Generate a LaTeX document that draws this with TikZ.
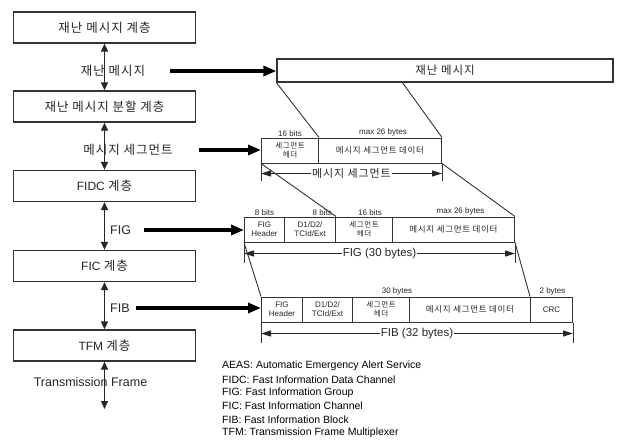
\documentclass[tikz,border=0pt]{standalone}
\usepackage{fontspec}
\setmainfont{Liberation Sans}
\newfontfamily\kr[LetterSpace=8]{Noto Sans CJK KR}
\usetikzlibrary{arrows.meta,calc}
\begin{document}
\begin{tikzpicture}[x=1pt,y=-1pt,
  layer/.style={draw=black!80,line width=1.3pt,minimum width=182pt,minimum height=31pt,inner sep=0pt,font=\fontsize{12}{14}\selectfont,text=black!85},
  lbl/.style={font=\fontsize{12}{14}\selectfont,text=black!85,inner sep=0pt},
  varrow/.style={draw=black!85,line width=1.3pt,{Triangle[length=8pt,width=7pt]}-{Triangle[length=8pt,width=7pt]}},
  harrow/.style={draw=black,line width=3.2pt,-{Triangle[length=13pt,width=10pt]}},
  cell/.style={draw=black!80,line width=1pt,minimum height=25pt,inner sep=0pt,anchor=west,align=center,font=\fontsize{8}{9}\selectfont,text=black!85},
  small/.style={font=\fontsize{8}{8}\selectfont,inner sep=0pt,text=black!85},
  thin/.style={draw=black!80,line width=0.9pt},
  dimarrow/.style={draw=black!85,line width=1pt,{Triangle[length=10pt,width=6pt]}-{Triangle[length=10pt,width=6pt]}},
  dimtxt/.style={fill=white,inner sep=1pt,font=\fontsize{11.5}{13}\selectfont,text=black!85},
  legend/.style={anchor=west,inner sep=0pt,font=\fontsize{10.5}{12}\selectfont,text=black}
]
\useasboundingbox[fill=white] (0,0) rectangle (621,440);

% left layer stack
\node[layer] (L1) at (104.5,27.5) {{\kr\fontsize{12.5}{14}\selectfont 재난 메시지 계층}};
\node[layer] (L2) at (104.5,106.5) {{\kr\fontsize{12.5}{14}\selectfont 재난 메시지 분할 계층}};
\node[layer] (L3) at (104.5,186) {FIDC {\kr\fontsize{12.5}{14}\selectfont 계층}};
\node[layer] (L4) at (104.5,266) {FIC {\kr\fontsize{12.5}{14}\selectfont 계층}};
\node[layer] (L5) at (104.5,345.5) {TFM {\kr\fontsize{12.5}{14}\selectfont 계층}};
\coordinate (Lend) at (104.5,409);

\node[lbl] (t1) at (113,71) {{\kr\fontsize{12.5}{14}\selectfont 재난 메시지}};
\node[lbl] (t2) at (128,150) {{\kr\fontsize{12.5}{14}\selectfont 메시지 세그먼트}};
\node[lbl,anchor=west,font=\fontsize{12.5}{14}\selectfont] (t3) at (110,230) {FIG};
\node[lbl,anchor=west,font=\fontsize{12.5}{14}\selectfont] (t4) at (110,308) {FIB};
\node[lbl,font=\fontsize{12.5}{14}\selectfont] (t5) at (90.5,382) {Transmission Frame};

\draw[varrow] (L1.south) -- (L2.north);
\draw[varrow] (L2.south) -- (L3.north);
\draw[varrow] (L3.south) -- (L4.north);
\draw[varrow] (L4.south) -- (L5.north);
\draw[varrow] (L5.south) -- (Lend);

% top message box
\node[draw=black!80,line width=1.2pt,minimum width=336pt,minimum height=23pt,inner sep=0pt,text=black!85] (msg) at (445,70.5) {{\kr\fontsize{11.5}{13}\selectfont 재난 메시지}};
\coordinate (msgcut) at (402,82);

% segment row
\node[cell,minimum width=57pt] (sh1) at (261,150.5) {{\kr\fontsize{7.5}{8.5}\selectfont 세그먼트}\\{\kr\fontsize{7.5}{8.5}\selectfont 헤더}};
\node[cell,minimum width=123pt] (sd1) at (318,150.5) {{\kr\fontsize{8.5}{9}\selectfont 메시지 세그먼트 데이터}};
\node[small,anchor=south] (s16) at ($(sh1.north)+(0,-1)$) {16 bits};
\node[small,anchor=south] (s26) at ($(sd1.north)+(3,-1)$) {max 26 bytes};

\draw[harrow] (t1.east) ++(25,0) coordinate (a1) -- (a1 -| msg.west);
\draw[harrow] (t2.east) ++(26,0) coordinate (a2) -- (a2 -| sh1.west);

\draw[thin] (msg.south west) -- (sh1.north east);
\draw[thin] (msgcut) -- (sd1.north east);

% segment dimension
\coordinate (sdl) at ($(sh1.south west)+(0,17)$);
\coordinate (sdr) at ($(sd1.south east)+(0,17)$);
\draw[thin] (sh1.south west) -- (sdl);
\draw[thin] (sd1.south east) -- (sdr);
\draw[dimarrow] ($(sh1.south west)+(0,10)$) coordinate (sdA) -- (sdA -| sd1.south east)
  node[dimtxt,pos=0.5] (sdt) {{\kr\fontsize{11}{12}\selectfont 메시지 세그먼트}};

% FIG row
\node[cell,minimum width=40pt] (fh) at (244,229.5) {FIG\\Header};
\node[cell,minimum width=51pt] (fd) at (284,229.5) {D1/D2/\\TCId/Ext};
\node[cell,minimum width=57pt] (fs) at (335,229.5) {{\kr\fontsize{7.5}{8.5}\selectfont 세그먼트}\\{\kr\fontsize{7.5}{8.5}\selectfont 헤더}};
\node[cell,minimum width=122pt] (fdat) at (392,229.5) {{\kr\fontsize{8.5}{9}\selectfont 메시지 세그먼트 데이터}};
\node[small,anchor=south] (f8a) at ($(fh.north)+(0,-1)$) {8 bits};
\node[small,anchor=south east] (f8b) at ($(fd.north east)+(-4,-1)$) {8 bits};
\node[small,anchor=south] (f16) at ($(fs.north)+(6,-1)$) {16 bits};
\node[small,anchor=south] (f26) at ($(fdat.north)+(7,-1)$) {max 26 bytes};

\draw[harrow] (t3.east) ++(13,0) coordinate (a3) -- (a3 -| fh.west);

\draw[thin] (sh1.south west) -- (fd.north east);
\draw[thin] (sd1.south east) -- (fdat.north east);

% FIG dimension
\draw[thin] (fh.north west) -- ($(fh.south west)+(0,20)$);
\draw[thin] (fdat.south east) -- ($(fdat.south east)+(0,20)$);
\draw[dimarrow] ($(fh.south west)+(0,11)$) coordinate (fdA) -- (fdA -| fdat.south east)
  node[dimtxt,pos=0.5] (fdt) {FIG (30 bytes)};

% FIB row
\node[cell,minimum width=41pt] (bh) at (261,309.5) {FIG\\Header};
\node[cell,minimum width=50pt] (bd) at (302,309.5) {D1/D2/\\TCId/Ext};
\node[cell,minimum width=57pt] (bs) at (352,309.5) {{\kr\fontsize{7.5}{8.5}\selectfont 세그먼트}\\{\kr\fontsize{7.5}{8.5}\selectfont 헤더}};
\node[cell,minimum width=121pt] (bdat) at (409,309.5) {{\kr\fontsize{8.5}{9}\selectfont 메시지 세그먼트 데이터}};
\node[cell,minimum width=42pt] (crc) at (530,309.5) {CRC};
\node[small,anchor=south] (b30) at ($(bdat.north west)+(-12,-1)$) {30 bytes};
\node[small,anchor=south] (b2) at ($(crc.north)+(1,-1)$) {2 bytes};

\draw[harrow] (t4.east) ++(6,0) coordinate (a4) -- (a4 -| bh.west);

\draw[thin] (fh.south west) -- (bh.north west);
\draw[thin] (fdat.south east) -- (crc.north west);

% FIB dimension
\draw[thin] (bh.south west) -- ($(bh.south west)+(0,20)$);
\draw[thin] (crc.south east) -- ($(crc.south east)+(0,20)$);
\draw[dimarrow] ($(bh.south west)+(0,11)$) coordinate (bdA) -- (bdA -| crc.south east)
  node[dimtxt,pos=0.5] (bdt) {FIB (32 bytes)};

% legend
\node[legend] (g1) at (222,366) {AEAS: Automatic Emergency Alert Service};
\node[legend] (g2) at (222,379.5) {FIDC: Fast Information Data Channel};
\node[legend] (g3) at (222,393) {FIG: Fast Information Group};
\node[legend] (g4) at (222,406) {FIC: Fast Information Channel};
\node[legend] (g5) at (222,419.5) {FIB: Fast Information Block};
\node[legend] (g6) at (222,433) {TFM: Transmission Frame Multiplexer};
\end{tikzpicture}
\end{document}
